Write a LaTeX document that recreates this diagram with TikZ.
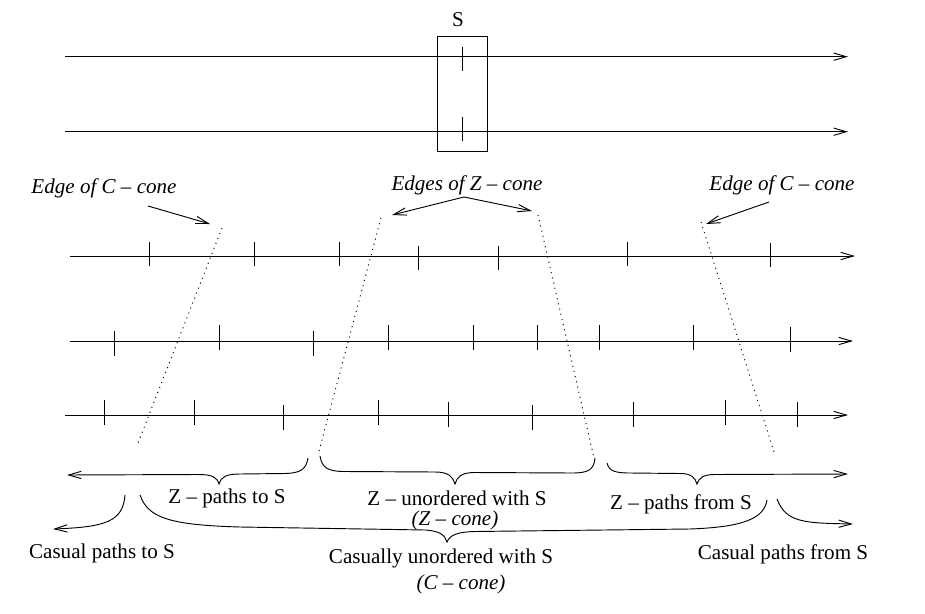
\documentclass[tikz,border=0pt]{standalone}
\usepackage{fontspec}
\setmainfont{Liberation Serif}
\usetikzlibrary{arrows.meta}

\begin{document}
\begin{tikzpicture}[x=0.75pt,y=-0.75pt,line width=0.7pt,
    font=\fontsize{15.8}{18}\selectfont,
    >={Straight Barb[length=9.5pt,width=5.5pt]}]
    \tikzstyle{every node} = [inner sep=0pt]
    \tikzstyle{coneedge} = [dash pattern=on 0.8pt off 3.2pt]
    \useasboundingbox (0,0) rectangle (925,614);

    % top: the two paths through S
    \draw[->] (65,56.7) -- (848,56.7);
    \draw[->] (65,131.7) -- (848,131.7);
    \draw (437.7,36.7) rectangle (487.3,151);
    \node (S) at (458,20) {S};
    \draw (462.7,46.7) -- +(0,24.3);
    \draw (462.7,116.7) -- +(0,24.3);

    % three time lines with events
    \draw[->] (70,256) -- (855,256);
    \foreach \x/\t in {149/242,254/242,339/242,418/246,498/246,627/242,770/243}
        \draw (\x,\t) -- +(0,24);
    \draw[->] (70,341) -- (853,341);
    \foreach \x/\t in {114/331,219/325,313/331,388/325,473/325,537/325,599/325,693/325,790/327}
        \draw (\x,\t) -- +(0,25);
    \draw[->] (65,415) -- (848,415);
    \foreach \x/\t in {104/400,194/400,283/405,378/400,448/402,532/405,633/402,725/400,797/402}
        \draw (\x,\t) -- +(0,25);

    % cone edges
    \coordinate (cl) at (222,228);  \coordinate (clb) at (138,443);
    \coordinate (zl) at (381,218);  \coordinate (zlb) at (318,455);
    \coordinate (zr) at (538,215);  \coordinate (zrb) at (594,458);
    \coordinate (cr) at (701,222);  \coordinate (crb) at (774,452);
    \draw[coneedge] (cl) -- (clb);
    \draw[coneedge] (zl) -- (zlb);
    \draw[coneedge] (zr) -- (zrb);
    \draw[coneedge] (cr) -- (crb);

    % labels of the edges
    \node (edgecl) at (104,188) {\itshape Edge of C -- cone};
    \node (edgesz) at (467,185) {\itshape Edges of  Z -- cone};
    \node (edgecr) at (782,185) {\itshape Edge of C -- cone};
    \coordinate (fromcl) at (148,206);  \coordinate (tocl) at (210,224);
    \coordinate (fromz) at (464,197);
    \coordinate (tozl) at (392,215);    \coordinate (tozr) at (532,211);
    \coordinate (fromcr) at (769,202);  \coordinate (tocr) at (706,224);
    \draw[->] (fromcl) -- (tocl);
    \draw[->] (fromz) -- (tozl);
    \draw[->] (fromz) -- (tozr);
    \draw[->] (fromcr) -- (tocr);

    % braces on the bottom line
    \draw[->] (308,458) .. controls (306,470) and (300,473) .. (285,473.5)
        -- (240,474) .. controls (226,474) and (221,477) .. (219,484)
        .. controls (217,477) and (212,474.5) .. (198,474.5) -- (67,475);
    \draw (320,456) .. controls (322,468) and (328,471.5) .. (345,471.5)
        -- (435,472) .. controls (449,472) and (453,477) .. (455,484)
        .. controls (457,477) and (461,472.5) .. (475,472.5)
        -- (572,473) .. controls (588,473) and (594,470) .. (595,458);
    \draw[->] (607,463) .. controls (609,471) and (615,473) .. (630,473)
        -- (680,473.5) .. controls (692,473.5) and (695,478) .. (697,484)
        .. controls (699,478) and (703,474.5) .. (715,474.5) -- (848,474);
    \draw (140,495) .. controls (148,518) and (170,525) .. (240,527)
        -- (425,530) .. controls (440,531) and (445,535) .. (447,542)
        .. controls (450,535) and (457,532) .. (475,531.5)
        -- (690,529) .. controls (745,527) and (764,518) .. (767,500);
    \draw[->] (125,495) .. controls (123,522) and (105,527) .. (53,529);
    \draw[->] (777,499) .. controls (786,523) and (805,523) .. (853,524);

    % texts under the braces
    \node (zto) at (227,498) {Z -- paths to S};
    \node (zun) at (457,498) {Z -- unordered with S};
    \node (zcone) at (455,520) {\itshape (Z -- cone)};
    \node (zfrom) at (681,504) {Z -- paths from S};
    \node (cto) at (102,553) {Casual paths to S};
    \node (cun) at (441,558) {Casually unordered with S};
    \node (ccone) at (461,584) {\itshape (C -- cone)};
    \node (cfrom) at (783,554) {Casual paths from S};
\end{tikzpicture}
\end{document}
